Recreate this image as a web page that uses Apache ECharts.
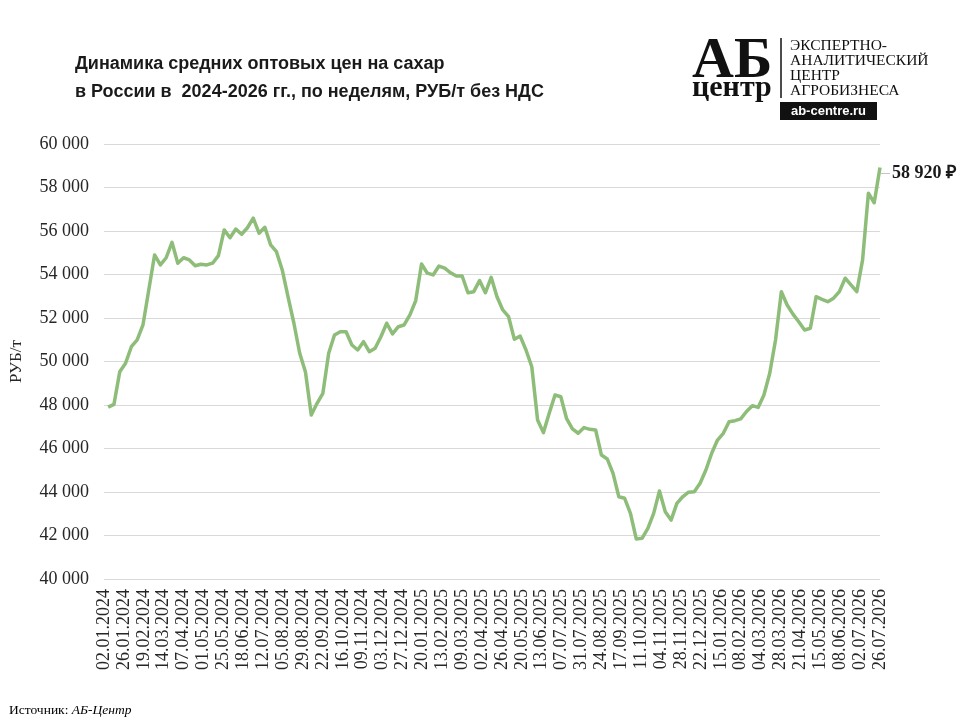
<!DOCTYPE html>
<html>
<head>
<meta charset="utf-8">
<script src="https://cdn.jsdelivr.net/npm/echarts@6/dist/echarts.min.js"></script>
<style>
html,body{margin:0;padding:0;background:#fff;}
#chart{width:960px;height:720px;}
</style>
</head>
<body>
<div id="chart"></div>
<script>
// ---- data ----
const titleLines = ['Динамика средних оптовых цен на сахар', 'в России в  2024-2026 гг., по неделям, РУБ/т без НДС'];
const yAxisName = 'РУБ/т';
const sourceLabel = 'Источник: ';
const sourceName = 'АБ-Центр';
const axisStart = '2024-01-02';     // first tick label
const axisEnd = '2026-07-26';       // last tick label
const tickStepDays = 24;            // spacing of tick labels, days
const firstWeek = '2024-01-07';     // date of first weekly observation
const weekStepDays = 7;
const yMin = 40000, yMax = 60000, yStep = 2000;
const prices = [
  47900, 48030, 49530, 49920, 50680, 50990, 51680, 53290, 54900, 54440,
  54770, 55480, 54520, 54770, 54670, 54400, 54470, 54440, 54520, 54870,
  56050, 55690, 56090, 55850, 56150, 56590, 55900, 56170, 55360, 55050,
  54210, 52970, 51770, 50390, 49520, 47540, 48080, 48540, 50380, 51220,
  51370, 51370, 50760, 50530, 50910, 50450, 50610, 51140, 51760, 51270,
  51600, 51680, 52140, 52800, 54480, 54060, 53980, 54390, 54290, 54080,
  53930, 53930, 53160, 53210, 53720, 53160, 53870, 52980, 52370, 52060,
  51020, 51170, 50530, 49760, 47310, 46730, 47620, 48460, 48380, 47370,
  46900, 46700, 46960, 46880, 46850, 45700, 45520, 44860, 43780, 43710,
  43020, 41840, 41870, 42330, 43020, 44050, 43090, 42710, 43480, 43780,
  43990, 44010, 44400, 45010, 45780, 46390, 46700, 47230, 47280, 47360,
  47700, 47970, 47890, 48460, 49460, 50990, 53210, 52600, 52180, 51830,
  51450, 51530, 52980, 52860, 52750, 52910, 53210, 53830, 53520, 53210,
  54670, 57740, 57300, 58920
];
const logoMain = 'АБ';
const logoSub = 'центр';
const logoLines = ['ЭКСПЕРТНО-', 'АНАЛИТИЧЕСКИЙ', 'ЦЕНТР', 'АГРОБИЗНЕСА'];
const logoSite = 'ab-centre.ru';

// ---- helpers ----
const DAY = 86400000;
const t0 = Date.parse(axisStart + 'T00:00:00Z');
const axisMaxDays = Math.round((Date.parse(axisEnd + 'T00:00:00Z') - t0) / DAY);
const firstOffset = Math.round((Date.parse(firstWeek + 'T00:00:00Z') - t0) / DAY);
function pad(n){ return (n < 10 ? '0' : '') + n; }
function fmtDate(days){
  const d = new Date(t0 + days * DAY);
  return pad(d.getUTCDate()) + '.' + pad(d.getUTCMonth() + 1) + '.' + d.getUTCFullYear();
}
function fmtNum(v){ return String(Math.round(v)).replace(/\B(?=(\d{3})+(?!\d))/g, ' '); }
const seriesData = prices.map((p, i) => [firstOffset + i * weekStepDays, p]);

const serif = '"Liberation Serif", "Times New Roman", serif';
const sans = '"Liberation Sans", Arial, sans-serif';

const chart = echarts.init(document.getElementById('chart'), null, {renderer: 'canvas'});
chart.setOption({
  backgroundColor: '#ffffff',
  animation: false,
  title: {
    text: titleLines.join('\n'),
    left: 70, top: 45,
    textStyle: {fontFamily: sans, fontWeight: 'bold', fontSize: 18, color: '#1a1a1a', lineHeight: 28}
  },
  grid: {left: 100, right: 80, top: 144, bottom: 141, containLabel: false},
  xAxis: {
    type: 'value',
    min: 0, max: axisMaxDays, interval: tickStepDays,
    axisLine: {show: false},
    axisTick: {show: false},
    splitLine: {show: false},
    axisLabel: {
      rotate: 90, margin: 10,
      fontFamily: serif, fontSize: 18, color: '#262626',
      showMinLabel: true, showMaxLabel: true,
      formatter: v => fmtDate(v)
    }
  },
  yAxis: {
    type: 'value',
    min: yMin, max: yMax, interval: yStep,
    name: yAxisName, nameLocation: 'middle', nameRotate: 90, nameGap: 79,
    nameTextStyle: {fontFamily: serif, fontSize: 17, color: '#262626'},
    axisLine: {show: false},
    axisTick: {show: false},
    splitLine: {lineStyle: {color: '#d9d9d9', width: 1}},
    axisLabel: {fontFamily: serif, fontSize: 18, color: '#262626', margin: 15, formatter: v => fmtNum(v)}
  },
  series: [{
    type: 'line',
    data: seriesData,
    showSymbol: false,
    symbol: 'none',
    smooth: false,
    lineStyle: {color: '#8dbd78', width: 3.5, join: 'round'},
    endLabel: {
      show: true,
      distance: 1,
      offset: [0, 6],
      formatter: p => '{d|—}{v|' + fmtNum(p.value[1]) + ' ₽}',
      rich: {
        d: {fontFamily: sans, fontSize: 9, color: '#a6a6a6', padding: [0, 2, 0, 0]},
        v: {fontFamily: serif, fontWeight: 'bold', fontSize: 18, color: '#1a1a1a'}
      }
    }
  }],
  graphic: [
    {type: 'text', left: 692, top: 33, style: {text: logoMain, font: 'bold 58px ' + serif, fill: '#111'}},
    {type: 'text', left: 692, top: 73, style: {text: logoSub, font: 'bold 30px ' + serif, fill: '#111'}},
    {type: 'line', shape: {x1: 781, y1: 38, x2: 781, y2: 98}, style: {stroke: '#111', lineWidth: 1.5}},
    {type: 'text', left: 790, top: 38, style: {text: logoLines.join('\n'), font: '15.5px ' + serif, lineHeight: 15, fill: '#111'}},
    {type: 'rect', shape: {x: 780, y: 102, width: 97, height: 18}, style: {fill: '#111'}},
    {type: 'text', x: 828.5, y: 111, style: {text: logoSite, font: 'bold 13px ' + sans, fill: '#fff', align: 'center', verticalAlign: 'middle'}},
    {type: 'text', left: 9, top: 703, style: {
      text: '{a|' + sourceLabel + '}{b|' + sourceName + '}',
      rich: {
        a: {fontFamily: serif, fontSize: 13.5, color: '#262626'},
        b: {fontFamily: serif, fontSize: 13.5, fontStyle: 'italic', color: '#262626'}
      }
    }}
  ]
});
</script>
</body>
</html>
